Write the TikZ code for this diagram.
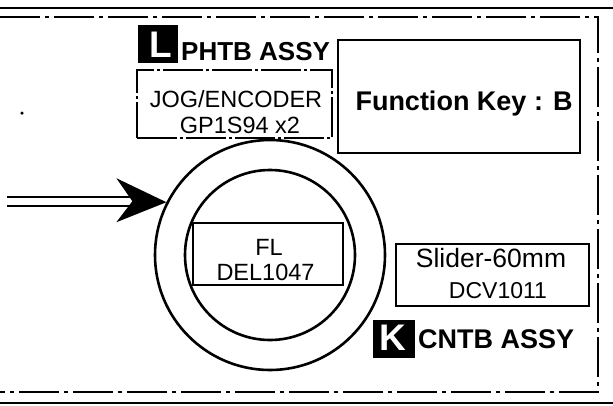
\documentclass[tikz,border=0pt]{standalone}
\usepackage{fontspec}
\setmainfont{Liberation Sans}
\usetikzlibrary{calc}
\begin{document}
\begin{tikzpicture}[x=1pt,y=-1pt,
  border/.style={line width=1.8pt, dash pattern=on 40pt off 5pt on 4pt off 5pt},
  rule/.style={line width=1.6pt},
  box/.style={draw, line width=2.2pt, inner sep=0pt},
  blk/.style={fill=black, inner sep=0pt},
  blkletter/.style={text=white, inner sep=0pt, anchor=base, font=\bfseries\fontsize{37}{37}\selectfont},
  lbl/.style={inner sep=0pt, anchor=base, font=\fontsize{23.5}{23.5}\selectfont},
  blbl/.style={inner sep=0pt, font=\bfseries\fontsize{26}{26}\selectfont},
  ring/.style={draw, circle, line width=2.6pt, inner sep=0pt}]
\useasboundingbox (0,0) rectangle (613,405);
% outer rules
\coordinate (tl1) at (0,8); \coordinate (tr1) at (613,8);
\draw[rule] (tl1) -- (tr1);
\coordinate (bl1) at (0,403); \coordinate (br1) at (613,403);
\draw[rule] (bl1) -- (br1);
\coordinate (tl2) at (0,17); \coordinate (tr2) at (598,17);
\coordinate (br2) at (598,392); \coordinate (bl2) at (0,392);
\draw[border] (tl2) -- (tr2) -- (br2) -- (bl2);
% L label
\node[blk, minimum width=40pt, minimum height=38pt] (lbox) at (158,44) {};
\node[blkletter] (lletter) at (161,57) {L};
\node[blbl, anchor=base west] (phtb) at (181,60) {PHTB ASSY};
% JOG box
\node[box, dash pattern=on 40pt off 3pt on 3pt off 3pt, minimum width=195pt, minimum height=68pt] (jog) at (234.5,104) {};
\node[lbl] (jog1) at (236,107) {JOG/ENCODER};
\node[lbl] (jog2) at (240,133) {GP1S94 x2};
% Function key
\node[box, minimum width=242pt, minimum height=113pt] (fkey) at (459,96.5) {};
\node[blbl, anchor=base, font=\bfseries\fontsize{27}{27}\selectfont] (fkeyt) at (464,110) {Function Key : B};
% dot
\node[circle, fill, inner sep=0pt, minimum size=3.5pt] (dot) at (22,113) {};
% circles
\node[ring, minimum size=230pt] (outer) at (270,255) {};
\node[ring, minimum size=170pt] (inner) at (270,255) {};
% FL box
\node[box, minimum width=150pt, minimum height=62pt] (fl) at (268,254) {};
\node[lbl] (fl1) at (269,255) {FL};
\node[lbl] (fl2) at (265.5,280) {DEL1047};
% Slider box
\node[box, minimum width=193pt, minimum height=62pt] (slider) at (492.5,275) {};
\node[lbl, font=\fontsize{26.5}{26.5}\selectfont] (sl1) at (491,267) {Slider-60mm};
\node[lbl, font=\fontsize{23}{23}\selectfont] (sl2) at (498,298) {DCV1011};
% K label
\node[blk, minimum width=42pt, minimum height=38pt] (kbox) at (394,339) {};
\node[blkletter] (kletter) at (393,350) {K};
\node[blbl, anchor=base west, font=\bfseries\fontsize{27}{27}\selectfont] (cntb) at (418,348) {CNTB ASSY};
% arrow
\coordinate (arrS) at (7,201.5);
\coordinate (arrN) at (134,201.5);
\coordinate (arrT) at (outer.153.7);
\draw[line width=2pt, double distance=7pt] (arrS) -- (arrN);
\fill ($(arrT)+(-50,-24)$) -- (arrT) -- ($(arrT)+(-50,20)$) -- ($(arrT)+(-34,-1)$) -- cycle;
\end{tikzpicture}
\end{document}
